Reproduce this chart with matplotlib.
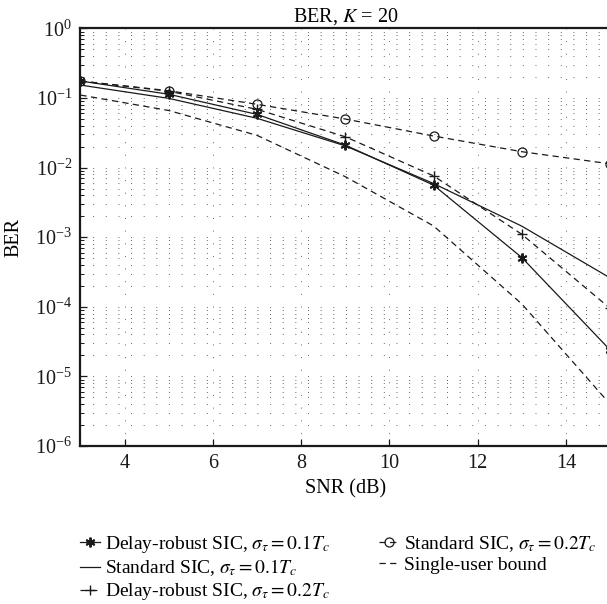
import matplotlib
matplotlib.use("Agg")
import matplotlib.pyplot as plt
from matplotlib.ticker import LogLocator, NullFormatter
import numpy as np

# SNR points (dB)
snr = [3, 5, 7, 9, 11, 13, 15]

# BER curves
ber_robust_01 = [0.175, 0.113, 0.058, 0.021, 0.0056, 5.1e-4, 2.4e-5]
ber_standard_01 = [0.153, 0.0986, 0.051, 0.0205, 0.0059, 1.44e-3, 2.6e-4]
ber_robust_02 = [0.175, 0.125, 0.0686, 0.0277, 0.0076, 1.1e-3, 9.5e-5]
ber_standard_02 = [0.175, 0.127, 0.081, 0.0498, 0.0284, 0.0169, 0.0113]
ber_single_user = [0.11, 0.066, 0.029, 0.0074, 0.00145, 1.1e-4, 4.0e-6]

labels = [r"Delay-robust SIC, $\sigma_\tau = 0.1T_c$",
          r"Standard SIC, $\sigma_\tau = 0.1T_c$",
          r"Delay-robust SIC, $\sigma_\tau = 0.2T_c$",
          r"Standard SIC, $\sigma_\tau = 0.2T_c$",
          "Single-user bound"]

plt.rcParams['font.family'] = ['Liberation Serif', 'DejaVu Serif']
plt.rcParams['mathtext.fontset'] = 'stix'
plt.rcParams['font.size'] = 14

ink = '#1a1a1a'
dash = (0, (5, 3.5))

fig = plt.figure(figsize=(6.07, 6.04), dpi=100)
ax = fig.add_axes([0.1326, 0.2616, 0.8724, 0.6915])

# asterisk marker like matlab '*'
ax.semilogy(snr, ber_robust_01, color=ink, lw=0.9, marker=(6, 2, 0), ms=7, mew=1.4,
            label=labels[0])
ax.semilogy(snr, ber_standard_01, color=ink, lw=0.9, label=labels[1])
ax.semilogy(snr, ber_robust_02, color=ink, lw=0.9, ls=dash, marker='+', ms=7,
            mew=1.0, label=labels[2])
ax.semilogy(snr, ber_standard_02, color=ink, lw=0.9, ls=dash, marker='o', ms=6.5,
            mfc='none', mew=0.9, label=labels[3])
ax.semilogy(snr, ber_single_user, color=ink, lw=0.9, ls=dash, label=labels[4])

ax.set_xlim(3, 15)
ax.set_ylim(1e-6, 1)
ax.set_xticks([4, 6, 8, 10, 12, 14])
ax.yaxis.set_major_locator(LogLocator(base=10, numticks=10))
ax.yaxis.set_minor_locator(LogLocator(base=10, subs=np.arange(2, 10), numticks=20))
ax.yaxis.set_minor_formatter(NullFormatter())

# matlab style dotted grid
grid_style = dict(color='#666666', lw=0.7, ls=(0, (1, 12)))
ax.grid(True, which='major', axis='both', **grid_style)
ax.grid(True, which='minor', axis='y', **grid_style)

ax.tick_params(which='both', direction='in', top=False, right=False, colors=ink,
               labelsize=14.5)
ax.tick_params(which='major', length=5, width=0.9, pad=6)
ax.tick_params(which='minor', length=3, width=0.7)
for s in ax.spines.values():
    s.set_linewidth(1.6)
    s.set_color(ink)

ax.set_title(r"BER, $K$ = 20", fontsize=14.5, pad=5)
ax.set_xlabel("SNR (dB)", fontsize=14.5, labelpad=4)
ax.set_ylabel("BER", fontsize=14.5, labelpad=8)

fig.legend(loc='upper left', bbox_to_anchor=(0.132, 0.118), ncol=2, frameon=False,
           handlelength=1.0, handletextpad=0.3, columnspacing=2.5, labelspacing=0.15,
           borderpad=0, borderaxespad=0, fontsize=14)

plt.savefig('out.png', dpi=100)
